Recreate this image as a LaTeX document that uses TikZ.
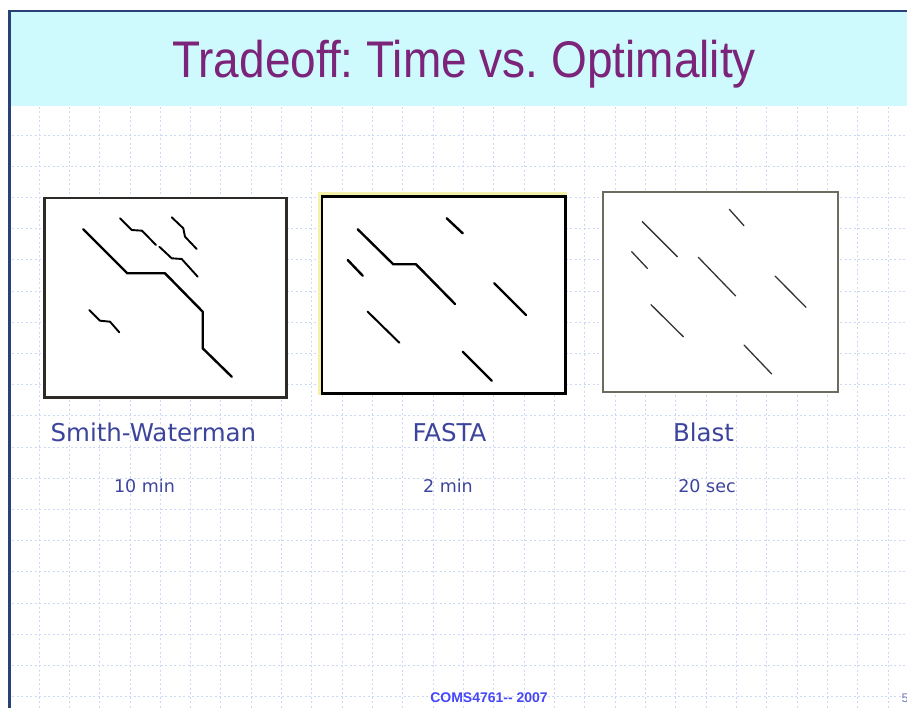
\documentclass[tikz,border=0pt]{standalone}
\usepackage{fontspec}
\setmainfont{Liberation Sans}
\newfontfamily\lblfont{DejaVu Sans}
\definecolor{bandcyan}{RGB}{206,250,253}
\definecolor{framenavy}{RGB}{40,66,120}
\definecolor{titlepurple}{RGB}{124,36,122}
\definecolor{gridblue}{RGB}{204,216,244}
\definecolor{labelblue}{RGB}{60,68,156}
\definecolor{footblue}{RGB}{70,70,250}
\definecolor{boxgray}{RGB}{108,108,94}
\definecolor{halo}{RGB}{245,240,170}
\tikzset{
  gridline/.style={gridblue, line width=0.9pt, dash pattern=on 2pt off 2.5pt},
  panel/.style={draw=black, line width=2.6pt, fill=white, inner sep=0pt, anchor=north west},
  heavyseg/.style={black, line width=2.4pt, line cap=round, line join=round},
  thinseg/.style={black!80, line width=1.3pt, line cap=round},
  biglabel/.style={font=\lblfont\fontsize{24.5}{28}\selectfont, text=labelblue, anchor=base, inner sep=0pt},
  smalllabel/.style={font=\lblfont\fontsize{17.5}{20}\selectfont, text=labelblue, anchor=base, inner sep=0pt}
}
\begin{document}
\frenchspacing
\begin{tikzpicture}[x=1pt, y=-1pt]
\useasboundingbox (0,0) rectangle (907,708);
\clip (0,0) rectangle (907,708);
\fill[white] (0,0) rectangle (907,708);
% grid
\foreach \k in {0,...,28} {
  \draw[gridline] ({39+30.32*\k},107) -- ({39+30.32*\k},708);
}
\foreach \k in {0,...,18} {
  \draw[gridline] (12,{135+31.2*\k}) -- (907,{135+31.2*\k});
}
% title band and frame
\fill[bandcyan] (11,12) rectangle (907,106);
\draw[framenavy, line width=2pt] (8,11) -- (907,11);
\draw[framenavy, line width=3.5pt] (9.5,10) -- (9.5,708);
\node[font=\fontsize{46}{50}\selectfont, text=titlepurple, anchor=base, yscale=1.12, inner sep=0pt] (title) at (464,78) {Tradeoff: Time vs. Optimality};
% panel 1: Smith-Waterman
\node[panel, draw=black!90!olive, minimum width=241.7pt, minimum height=199.3pt] (sw) at (43.3,196.7) {};
\draw[heavyseg] (83.3,229.3) -- (127.3,273.3) -- (165,273.3) -- (202.7,311.7) -- (202.7,348.3) -- (231.7,376.7);
\draw[heavyseg, line width=1.9pt] (120,218.3) -- (131.7,230) -- (142,230.7) -- (156,245);
\draw[heavyseg, line width=1.9pt] (171.7,217.3) -- (183.3,228.3) -- (185,236.7) -- (196.7,249);
\draw[heavyseg, line width=1.9pt] (159.3,246.7) -- (171.7,258.3) -- (181.7,259) -- (197.7,276.7);
\draw[heavyseg, line width=1.9pt] (89.3,310) -- (100,320.7) -- (110,321.7) -- (119.3,332.3);
% panel 2: FASTA
\draw[halo, line width=5.5pt] (320.7,195) rectangle (564,392.3);
\node[panel, minimum width=243.3pt, minimum height=197.3pt] (fasta) at (320.7,195) {};
\draw[heavyseg] (357.7,229.3) -- (393.3,264.3) -- (416,264.3) -- (455,304);
\draw[heavyseg] (446.7,218.3) -- (462.7,233.3);
\draw[heavyseg] (347.7,260) -- (362.7,275.7);
\draw[heavyseg] (494.3,283.3) -- (526,315);
\draw[heavyseg, line width=2pt] (367.7,311.7) -- (399.3,342.7);
\draw[heavyseg] (462.7,351.7) -- (491.7,380.7);
% panel 3: Blast
\node[panel, draw=boxgray, minimum width=235pt, minimum height=200pt] (blast) at (601.7,190.7) {};
\draw[thinseg] (729.3,209.3) -- (744,225.7);
\draw[thinseg] (642.3,221.7) -- (677.3,256.7);
\draw[thinseg] (631.7,251.7) -- (647.3,268.3);
\draw[thinseg] (698.3,257.3) -- (735.7,296);
\draw[thinseg] (775,276) -- (806,307.3);
\draw[thinseg] (651,304.7) -- (683.3,336.7);
\draw[thinseg] (744,345) -- (771.7,374);
% labels
\node[biglabel] (swlbl) at (153.4,441.5) {Smith-Waterman};
\node[biglabel] (fastalbl) at (449.5,441) {FASTA};
\node[biglabel] (blastlbl) at (703.5,441) {Blast};
\node[smalllabel] (swtime) at (144.5,492) {10 min};
\node[smalllabel] (fastatime) at (448,492) {2 min};
\node[smalllabel] (blasttime) at (707,492) {20 sec};
% footer
\node[font=\bfseries\fontsize{14}{16}\selectfont, text=footblue, anchor=base, inner sep=0pt] (footer) at (489,702) {COMS4761-{}- 2007};
\node[font=\fontsize{12.5}{14}\selectfont, text=labelblue!70, anchor=base west, inner sep=0pt] (pagenum) at (901.5,702) {5};
\end{tikzpicture}
\end{document}
